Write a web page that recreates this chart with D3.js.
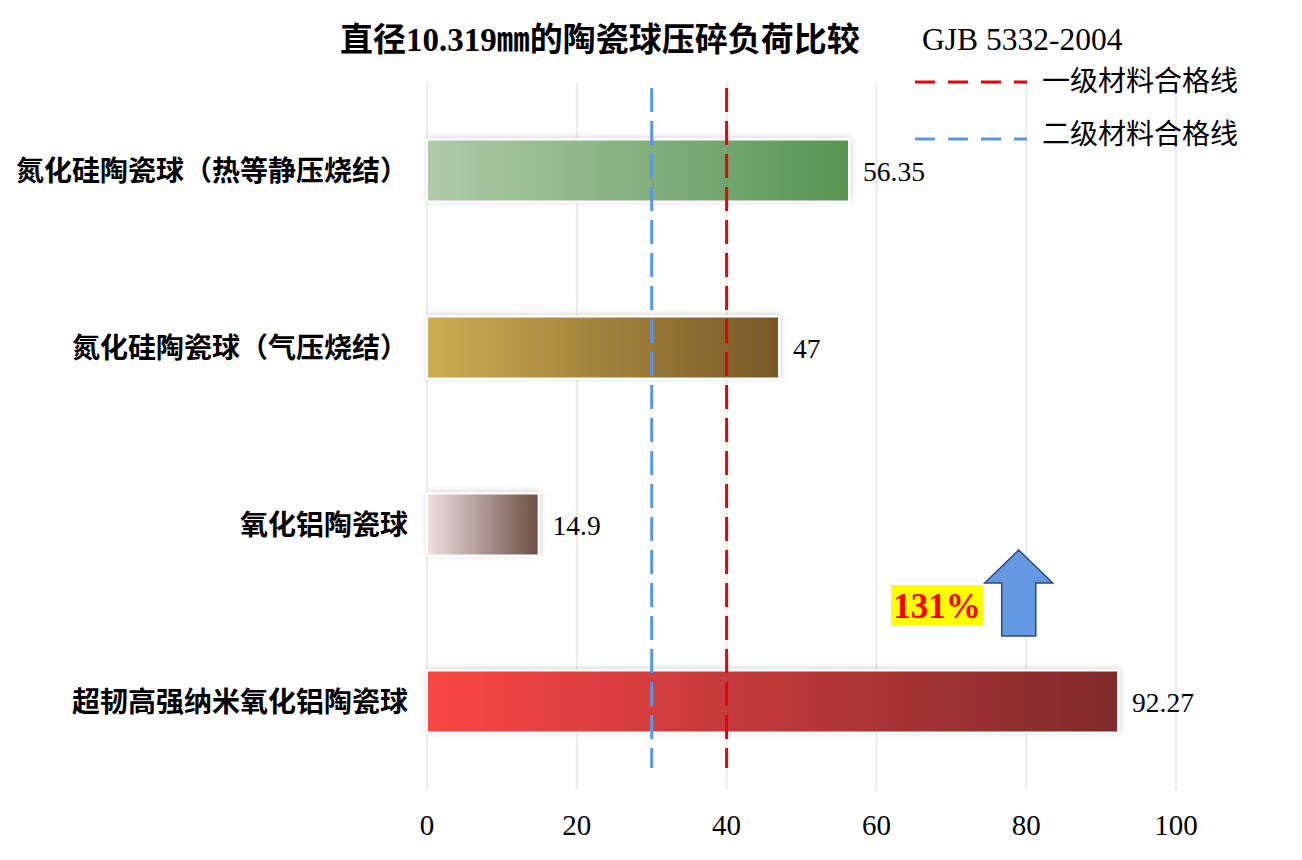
<!DOCTYPE html>
<html>
<head>
<meta charset="utf-8">
<script src="https://cdn.jsdelivr.net/npm/d3@7"></script>
<style>
  body { margin: 0; background: #fff; }
</style>
</head>
<body>
<script>
var categories = ["氮化硅陶瓷球（热等静压烧结）", "氮化硅陶瓷球（气压烧结）", "氧化铝陶瓷球", "超韧高强纳米氧化铝陶瓷球"];
var values = [56.35, 47, 14.9, 92.27];
var labels = ["56.35", "47", "14.9", "92.27"];
var barColors = [["#b0cbaa", "#589553"], ["#cbad52", "#785827"], ["#f1e0e1", "#6c4e45"], ["#fb4646", "#7f2a2b"]];
var xTicks = [0, 20, 40, 60, 80, 100];
var refLines = [{ name: "一级材料合格线", value: 40, color: "#f00000" }, { name: "二级材料合格线", value: 30, color: "#5b96e3" }];
var arrowAt = 79;
var increase = "131%";

var w = 1302;
var h = 860;
var serif = "'Liberation Serif', 'Times New Roman', 'Noto Serif CJK SC', serif";
var cjk = "'Liberation Serif', 'Noto Sans CJK SC', sans-serif";

var svg = d3.select("body")
  .append("svg")
  .attr("width", w)
  .attr("height", h);

var defs = svg.append("defs");
var shadow = defs.append("filter").attr("id", "shadow")
  .attr("x", "-10%").attr("y", "-30%").attr("width", "120%").attr("height", "160%");
shadow.append("feDropShadow")
  .attr("dx", 1).attr("dy", -1).attr("stdDeviation", 3)
  .attr("flood-color", "#000").attr("flood-opacity", 0.18);

barColors.forEach(function(c, i) {
  var g = defs.append("linearGradient").attr("id", "grad" + i)
    .attr("x1", "0%").attr("x2", "100%").attr("y1", "0%").attr("y2", "0%");
  g.append("stop").attr("offset", "0%").attr("stop-color", c[0]);
  g.append("stop").attr("offset", "100%").attr("stop-color", c[1]);
});

var x = d3.scaleLinear()
  .domain([0, 100])
  .range([427, 1176]);

var y = d3.scaleBand()
  .domain(categories)
  .range([82, 790]);

var barH = 62;

// gridlines
svg.append("g")
  .selectAll("line")
  .data(xTicks)
  .enter()
  .append("line")
  .attr("x1", d => x(d))
  .attr("x2", d => x(d))
  .attr("y1", 83)
  .attr("y2", 790)
  .attr("stroke", "#ebebeb")
  .attr("stroke-width", 2);

// x tick labels
svg.append("g")
  .selectAll("text")
  .data(xTicks)
  .enter()
  .append("text")
  .attr("x", d => x(d))
  .attr("y", 835)
  .attr("text-anchor", "middle")
  .attr("font-family", serif)
  .attr("font-size", 29)
  .attr("fill", "#000")
  .text(d => d);

// bars
svg.append("g")
  .selectAll("rect")
  .data(values)
  .enter()
  .append("rect")
  .attr("x", x(0))
  .attr("y", (d, i) => y(categories[i]) + y.bandwidth() / 2 - barH / 2)
  .attr("width", d => x(d) - x(0))
  .attr("height", barH)
  .attr("fill", (d, i) => "url(#grad" + i + ")")
  .attr("stroke", "#fff")
  .attr("stroke-width", 2)
  .attr("filter", "url(#shadow)");

// value labels
svg.append("g")
  .selectAll("text")
  .data(values)
  .enter()
  .append("text")
  .attr("x", d => x(d) + 14)
  .attr("y", (d, i) => y(categories[i]) + y.bandwidth() / 2 + 10)
  .attr("font-family", serif)
  .attr("font-size", 27.5)
  .attr("fill", "#000")
  .text((d, i) => labels[i]);

// category labels
svg.append("g")
  .selectAll("text")
  .data(categories)
  .enter()
  .append("text")
  .attr("x", 408)
  .attr("y", d => y(d) + y.bandwidth() / 2 + 10)
  .attr("text-anchor", "end")
  .attr("font-family", cjk)
  .attr("font-weight", "bold")
  .attr("font-size", 28)
  .attr("fill", "#000")
  .text(d => d);

// reference lines
svg.append("g")
  .selectAll("line")
  .data(refLines)
  .enter()
  .append("line")
  .attr("x1", d => x(d.value))
  .attr("x2", d => x(d.value))
  .attr("y1", 88)
  .attr("y2", 768)
  .attr("stroke", d => d.color)
  .attr("stroke-width", 3)
  .attr("stroke-dasharray", "24,9");

// legend
var legend = svg.append("g")
  .selectAll("g")
  .data(refLines)
  .enter()
  .append("g")
  .attr("transform", (d, i) => "translate(915," + (82 + i * 57) + ")");
legend.append("line")
  .attr("x1", 0).attr("x2", 112)
  .attr("stroke", d => d.color)
  .attr("stroke-width", 3)
  .attr("stroke-dasharray", "20,13");
legend.append("text")
  .attr("x", 127)
  .attr("y", (d, i) => i === 0 ? 9 : 5)
  .attr("font-family", "'Noto Sans CJK SC', sans-serif")
  .attr("font-size", 28)
  .attr("fill", "#000")
  .text(d => d.name);

// title
svg.append("text")
  .attr("x", 340)
  .attr("y", 51)
  .attr("font-family", cjk)
  .attr("font-weight", "bold")
  .attr("font-size", 33)
  .attr("fill", "#000")
  .text("直径10.319㎜的陶瓷球压碎负荷比较");
svg.append("text")
  .attr("x", 922)
  .attr("y", 50)
  .attr("font-family", serif)
  .attr("font-size", 31.5)
  .attr("fill", "#000")
  .text("GJB 5332-2004");

// arrow
var ax = x(arrowAt);
var arrow = [[ax, 550], [ax + 34, 583], [ax + 17, 583], [ax + 17, 636], [ax - 17, 636], [ax - 17, 583], [ax - 34, 583]];
svg.append("path")
  .attr("d", d3.line()(arrow) + "Z")
  .attr("fill", "#6399e3")
  .attr("stroke", "#2c4a75")
  .attr("stroke-width", 1.5);

// increase label
svg.append("rect")
  .attr("x", 891).attr("y", 585)
  .attr("width", 92).attr("height", 41)
  .attr("fill", "#ffff00");
svg.append("text")
  .attr("x", 937)
  .attr("y", 618)
  .attr("text-anchor", "middle")
  .attr("font-family", serif)
  .attr("font-weight", "bold")
  .attr("font-size", 35)
  .attr("fill", "#ff0000")
  .text(increase);
</script>
</body>
</html>
